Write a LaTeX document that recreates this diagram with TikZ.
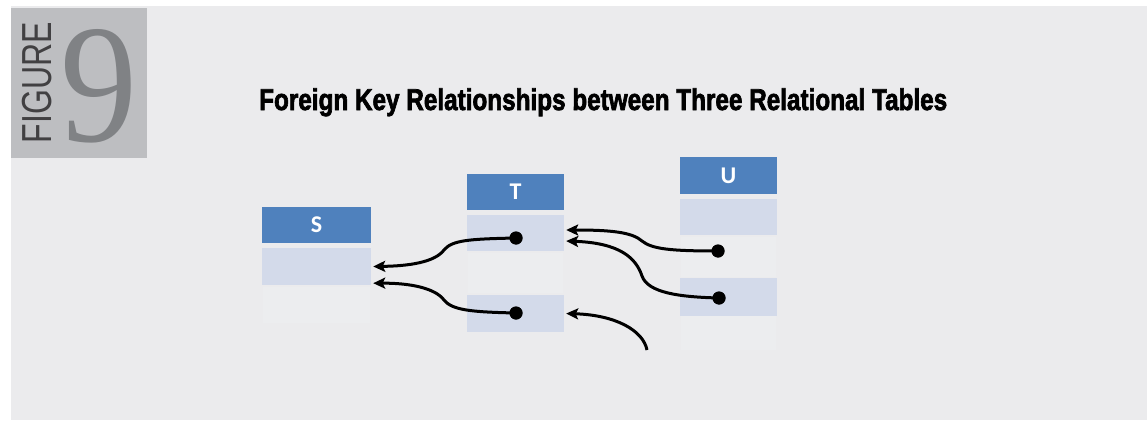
\documentclass[tikz,border=0pt]{standalone}
\usepackage{fontspec}
\setmainfont{Liberation Sans}
\newfontfamily\tabfont{Carlito}
\newfontfamily\ninefont{Liberation Serif}
\newfontfamily\titlefont[FakeBold=2.5]{Liberation Sans}
\usetikzlibrary{arrows.meta}
\definecolor{panel}{HTML}{EBEBED}
\definecolor{labbox}{HTML}{BDBEC1}
\definecolor{ninecol}{HTML}{808285}
\definecolor{figcol}{HTML}{414042}
\definecolor{hdrblue}{HTML}{4F81BD}
\definecolor{rowlight}{HTML}{D3DAEA}
\definecolor{rowfaint}{HTML}{ECEDEF}
\tikzset{
  hdr/.style={rectangle, fill=hdrblue, inner sep=0pt, text=white, font=\tabfont\bfseries\fontsize{24}{26}\selectfont},
  rowl/.style={rectangle, fill=rowlight, inner sep=0pt},
  rowf/.style={rectangle, fill=rowfaint, inner sep=0pt},
  dotnode/.style={circle, fill=black, inner sep=0pt, minimum size=13pt},
  fk/.style={line width=3pt, black, -{Stealth[length=12pt,width=11pt,inset=2.5pt]}}
}
\begin{document}
\begin{tikzpicture}[x=1pt,y=-1pt]
\useasboundingbox (0,0) rectangle (1147,420);
\fill[white] (0,0) rectangle (1147,420);
\fill[panel] (11,6) rectangle (1147,420);
% figure label
\fill[labbox] (11,8) rectangle (147,158);
\node[text=figcol, inner sep=0pt, rotate=90] (figword) at (37,82.5)
  {\resizebox{121pt}{\height}{\fontsize{42}{44}\selectfont FIGURE}};
\node[text=ninecol, inner sep=0pt] (nine) at (98.5,86)
  {\resizebox{77pt}{112pt}{\ninefont 9}};
% title
\node[anchor=base west, inner sep=0pt] (title) at (259,110)
  {\resizebox{688pt}{\height}{\fontsize{30}{32}\selectfont\titlefont\bfseries Foreign Key Relationships between Three Relational Tables}};
% table S
\node[hdr, minimum width=109pt, minimum height=36pt] (Sh) at (316.5,225) {S};
\node[rowl, minimum width=109pt, minimum height=37pt] (S1) at (316.5,266.5) {};
\node[rowf, minimum width=107pt, minimum height=36pt] (S2) at (316.5,305) {};
% table T
\node[hdr, minimum width=97pt, minimum height=36pt] (Th) at (515.5,192) {T};
\node[rowl, minimum width=97pt, minimum height=36pt] (T1) at (515.5,233) {};
\node[rowf, minimum width=95pt, minimum height=40pt] (T2) at (515.5,273) {};
\node[rowl, minimum width=97pt, minimum height=37pt] (T3) at (515.5,313.5) {};
% table U
\node[hdr, minimum width=97pt, minimum height=37pt] (Uh) at (728.5,175.5) {U};
\node[rowl, minimum width=97pt, minimum height=36pt] (U1) at (728.5,217) {};
\node[rowf, minimum width=95pt, minimum height=40pt] (U2) at (728.5,256.5) {};
\node[rowl, minimum width=97pt, minimum height=38pt] (U3) at (728.5,297) {};
\node[rowf, minimum width=95pt, minimum height=34pt] (U4) at (728.5,333) {};
% dots
\node[dotnode] (dT1) at (516,238) {};
\node[dotnode] (dT3) at (516,313) {};
\node[dotnode] (dU2) at (718,251) {};
\node[dotnode] (dU3) at (719,298) {};
\coordinate (free) at (647,350);
% connectors
\draw[fk] (dT1.center) .. controls (470,239) and (452,240) .. (444,250)
  .. controls (435,262) and (410,266) .. ([xshift=2pt]S1.east);
\draw[fk] (dT3.center) .. controls (470,312) and (452,310) .. (444,300)
  .. controls (435,288) and (410,283) .. ([xshift=2pt,yshift=2pt]S1.south east);
\draw[fk] (dU2.center) .. controls (670,251) and (652,249) .. (642,241)
  .. controls (632,232) and (610,230) .. ([xshift=2pt,yshift=3pt]T1.east);
\draw[fk] (dU3.center) .. controls (680,297) and (648,293) .. (642,276)
  .. controls (636,258) and (620,243) .. ([xshift=2pt,yshift=-8pt]T1.east);
\draw[fk] (free) .. controls (643,330) and (615,315) .. ([xshift=2pt]T3.east);
\node[dotnode] at (dT1) {};
\node[dotnode] at (dT3) {};
\node[dotnode] at (dU2) {};
\node[dotnode] at (dU3) {};
\end{tikzpicture}
\end{document}
